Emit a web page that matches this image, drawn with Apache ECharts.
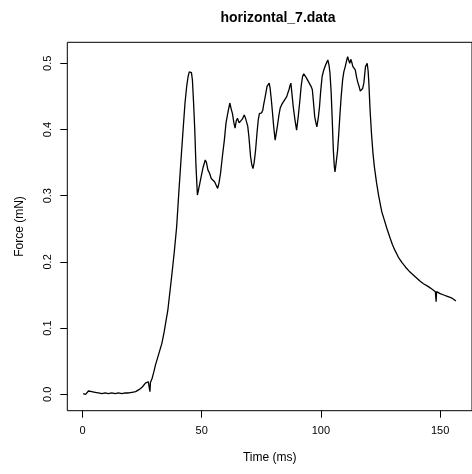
<!DOCTYPE html>
<html>
<head>
<meta charset="utf-8">
<script src="https://cdn.jsdelivr.net/npm/echarts@6/dist/echarts.min.js"></script>
<style>
html,body{margin:0;padding:0;background:#fff;}
#c{width:472px;height:474px;}
</style>
</head>
<body>
<div id="c"></div>
<script>
var titleText = 'horizontal_7.data';
var xName = 'Time (ms)';
var yName = 'Force (mN)';
var xTicks = [0, 50, 100, 150];
var yTicks = [0, 0.1, 0.2, 0.3, 0.4, 0.5];

var timeMs = [
0.3,0.8,1.3,1.8,2.5,3.2,3.9,4.6,5.3,6.0,6.7,7.4,8.1,8.8,9.5,10.2,10.9,11.6,12.3,13.0,
13.7,14.4,15.1,15.8,16.5,17.2,17.9,18.6,19.3,20.0,20.8,21.5,22.3,23.0,23.7,24.4,25.1,25.8,26.4,27.0,
27.6,28.1,28.3,28.5,29.2,30.0,30.6,31.5,32.4,33.3,34.2,35.0,35.8,36.1,37.4,38.5,39.5,40.5,41.6,42.3,
43.0,43.7,44.3,44.8,45.3,45.7,46.1,46.6,47.1,47.6,48.2,49.0,49.8,50.6,51.5,52.0,52.6,53.3,54.0,54.7,
55.4,56.0,56.7,57.3,57.9,58.7,59.5,60.2,60.9,61.4,61.8,62.3,62.9,63.5,64.0,64.5,65.0,65.7,66.4,67.1,
67.8,68.3,68.7,69.3,69.8,70.5,71.0,71.5,72.0,72.6,73.2,73.7,74.2,74.6,75.1,75.6,76.0,76.4,76.9,77.4,
77.9,78.3,78.7,79.2,79.7,80.2,80.8,81.3,81.9,82.4,82.9,83.6,84.3,85.0,85.7,86.2,86.6,87.0,87.4,87.9,
88.4,89.1,89.8,90.5,91.2,91.7,92.3,92.8,93.2,93.9,94.6,95.1,95.6,96.0,96.4,96.9,97.4,97.9,98.3,98.9,
99.4,99.9,100.5,101.2,101.9,102.4,102.9,103.4,103.8,104.3,104.7,105.2,105.6,105.9,106.4,107.0,107.5,108.0,108.5,109.1,
109.6,110.2,110.7,111.2,111.6,112.1,112.5,112.9,113.4,113.9,114.4,114.9,115.4,116.0,116.5,116.9,117.5,118.0,118.4,118.7,
119.1,119.4,119.8,120.1,120.6,121.2,121.8,122.4,123.3,124.2,125.5,126.7,127.7,129.0,130.0,131.1,132.5,134.0,135.5,137.0,
138.5,140.0,141.5,143.0,144.9,146.5,148.0,148.3,148.5,150.0,151.5,153.0,154.5,155.5,156.6
];
var forceMN = [
0.001,0.004,0.000,0.003,0.005,0.002,0.004,0.001,0.003,0.004,0.002,0.003,0.001,0.004,0.002,0.003,0.001,0.004,0.002,0.003,
0.001,0.003,0.002,0.004,0.001,0.003,0.002,0.001,0.002,0.001,0.003,0.002,0.004,0.005,0.007,0.008,0.011,0.013,0.017,0.014,
0.019,0.016,0.004,0.018,0.024,0.035,0.044,0.055,0.066,0.077,0.093,0.110,0.127,0.130,0.178,0.215,0.253,0.310,0.369,0.405,
0.440,0.465,0.480,0.487,0.490,0.486,0.475,0.440,0.399,0.345,0.301,0.315,0.329,0.343,0.354,0.350,0.339,0.334,0.326,0.325,
0.321,0.318,0.311,0.320,0.334,0.360,0.384,0.410,0.424,0.433,0.440,0.432,0.424,0.410,0.402,0.413,0.417,0.410,0.409,0.416,
0.422,0.418,0.419,0.405,0.389,0.359,0.347,0.341,0.350,0.369,0.395,0.414,0.424,0.427,0.425,0.429,0.438,0.445,0.455,0.465,
0.468,0.470,0.462,0.445,0.425,0.404,0.384,0.395,0.409,0.422,0.432,0.438,0.442,0.446,0.450,0.456,0.460,0.466,0.470,0.452,
0.434,0.415,0.399,0.420,0.445,0.465,0.480,0.484,0.485,0.478,0.475,0.470,0.467,0.464,0.460,0.440,0.419,0.410,0.404,0.418,
0.434,0.458,0.480,0.490,0.497,0.501,0.505,0.497,0.485,0.455,0.419,0.369,0.345,0.336,0.350,0.369,0.395,0.424,0.450,0.475,
0.487,0.495,0.503,0.510,0.505,0.500,0.506,0.502,0.495,0.497,0.490,0.480,0.472,0.465,0.458,0.455,0.462,0.470,0.485,0.495,
0.498,0.500,0.488,0.470,0.430,0.394,0.365,0.344,0.320,0.300,0.276,0.262,0.250,0.236,0.226,0.217,0.207,0.199,0.192,0.186,
0.181,0.176,0.171,0.167,0.163,0.159,0.155,0.140,0.155,0.152,0.150,0.148,0.146,0.144,0.141
];

var seriesData = timeMs.map(function (t, i) { return [t, forceMN[i]]; });

var chart = echarts.init(document.getElementById('c'), null, {renderer: 'canvas'});
var fontFam = '"Liberation Sans", Arial, Helvetica, sans-serif';
chart.setOption({
  animation: false,
  backgroundColor: '#ffffff',
  title: {
    text: titleText,
    left: 273,
    top: 6,
    textAlign: 'center',
    textStyle: {fontFamily: fontFam, fontSize: 14, fontWeight: 'bold', color: '#000'}
  },
  grid: {
    left: 67.3, top: 42.3, width: 410.7, height: 368.4,
    show: true, borderColor: '#000', borderWidth: 1, backgroundColor: 'transparent'
  },
  xAxis: {
    type: 'value',
    min: -6.36, max: 163.35,
    name: xName,
    nameLocation: 'middle',
    nameGap: 41,
    nameTextStyle: {fontFamily: fontFam, fontSize: 12, color: '#000'},
    splitLine: {show: false},
    axisLine: {show: false, onZero: false},
    axisTick: {show: true, inside: false, length: 7, customValues: xTicks, lineStyle: {color: '#000', width: 1}},
    axisLabel: {show: true, customValues: xTicks, margin: 15, fontFamily: fontFam, fontSize: 11, color: '#000',
      formatter: function (v) { return String(Math.round(v)); }}
  },
  yAxis: {
    type: 'value',
    min: -0.02477, max: 0.5317,
    name: yName,
    nameLocation: 'middle',
    nameGap: 42,
    nameRotate: 90,
    nameTextStyle: {fontFamily: fontFam, fontSize: 12, color: '#000'},
    splitLine: {show: false},
    axisLine: {show: false, onZero: false},
    axisTick: {show: true, inside: false, length: 7, customValues: yTicks, lineStyle: {color: '#000', width: 1}},
    axisLabel: {show: true, customValues: yTicks, margin: 14, rotate: 90, fontFamily: fontFam, fontSize: 11, color: '#000',
      formatter: function (v) { return v.toFixed(1); }}
  },
  series: [{
    type: 'line',
    data: seriesData,
    showSymbol: false,
    symbol: 'none',
    lineStyle: {color: '#000', width: 1.3},
    silent: true
  }]
});
</script>
</body>
</html>
